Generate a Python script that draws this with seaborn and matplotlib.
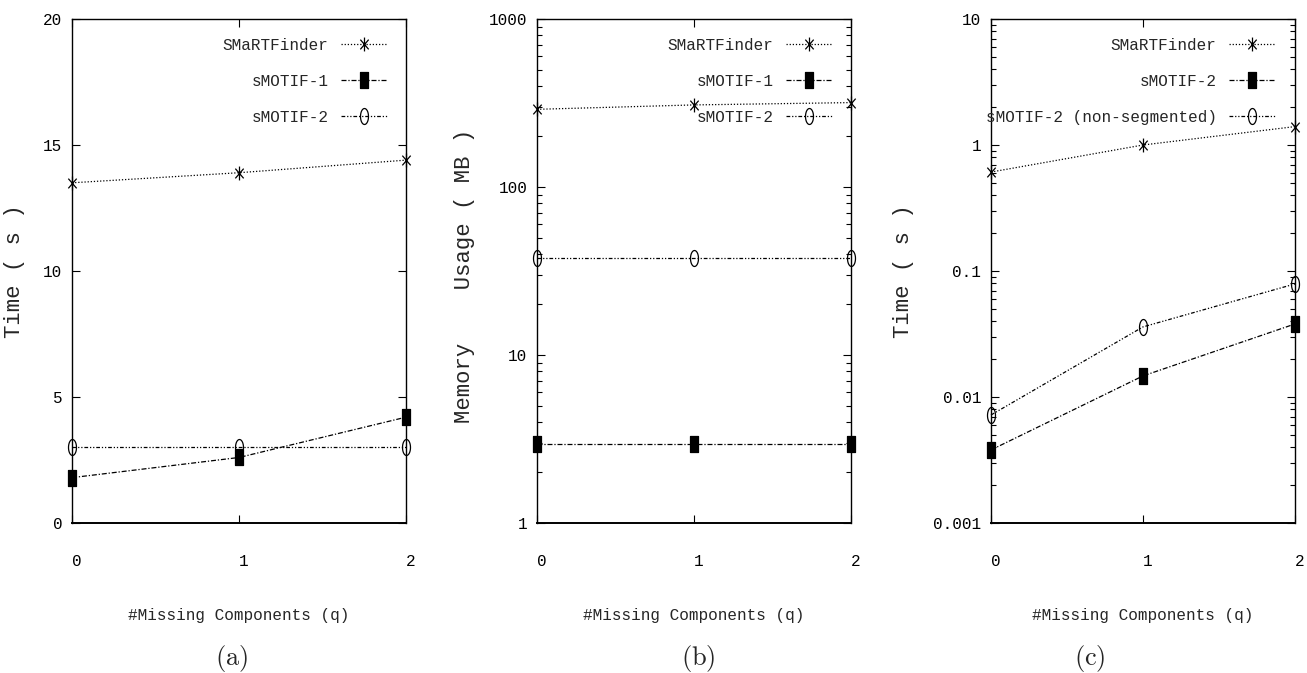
import numpy as np
import pandas as pd
import seaborn as sns
import matplotlib
matplotlib.use("Agg")
import matplotlib.pyplot as plt
from matplotlib.path import Path
from matplotlib.transforms import ScaledTranslation
from matplotlib.ticker import NullFormatter, LogLocator

# ---------------- data ----------------
q_values = [0, 1, 2]
x_tick_labels = ["0", "1", "2"]

# panel (a): time (s), linear
a_labels = ["SMaRTFinder", "sMOTIF-1", "sMOTIF-2"]
a_smartfinder = [13.5, 13.9, 14.4]
a_smotif1 = [1.8, 2.6, 4.2]
a_smotif2 = [3.0, 3.0, 3.0]
a_yticks = [0, 5, 10, 15, 20]
a_yticklabels = ["0", "5", "10", "15", "20"]

# panel (b): memory usage (MB), log
b_labels = ["SMaRTFinder", "sMOTIF-1", "sMOTIF-2"]
b_smartfinder = [290, 308, 318]
b_smotif1 = [2.95, 2.95, 2.95]
b_smotif2 = [38, 38, 38]
b_yticks = [1, 10, 100, 1000]
b_yticklabels = ["1", "10", "100", "1000"]

# panel (c): time (s), log
c_labels = ["SMaRTFinder", "sMOTIF-2", "sMOTIF-2 (non-segmented)"]
c_smartfinder = [0.61, 1.0, 1.4]
c_smotif2 = [0.0038, 0.0147, 0.038]
c_nonseg = [0.0072, 0.036, 0.079]
c_yticks = [0.001, 0.01, 0.1, 1, 10]
c_yticklabels = ["0.001", "0.01", "0.1", "1", "10"]

x_label = "#Missing Components (q)"
captions = ["(a)", "(b)", "(c)"]

# ---------------- style ----------------
sns.set_style("ticks")
plt.rcParams["font.family"] = ["Liberation Mono", "DejaVu Sans Mono"]
plt.rcParams["mathtext.fontset"] = "cm"

# markers (vertically elongated like the reference)
asterisk = Path(
    [(0, -1), (0, 1), (-0.6, -0.7), (0.6, 0.7), (-0.6, 0.7), (0.6, -0.7)],
    [Path.MOVETO, Path.LINETO, Path.MOVETO, Path.LINETO, Path.MOVETO, Path.LINETO],
)
rect = Path([(-0.5, -1), (0.5, -1), (0.5, 1), (-0.5, 1), (-0.5, -1)],
            [Path.MOVETO, Path.LINETO, Path.LINETO, Path.LINETO, Path.CLOSEPOLY])
t = np.linspace(0, 2 * np.pi, 41)
ellipse = Path(np.column_stack([0.5 * np.cos(t), np.sin(t)]))

series_styles = [
    dict(marker=asterisk, markersize=10, mfc="none", linestyle=(0, (1, 1.5))),
    dict(marker=rect, markersize=11.5, mfc="k", linestyle=(0, (4, 1.5, 1, 1.5))),
    dict(marker=ellipse, markersize=11.5, mfc="none", linestyle=(0, (3, 1.5, 1, 1.5, 1, 1.5))),
]

W, H = 1307, 673
fig = plt.figure(figsize=(W / 100, H / 100), dpi=100)

def px_axes(left, right, top=19, bottom=523):
    return fig.add_axes([left / W, (H - bottom) / H, (right - left) / W, (bottom - top) / H])

panels = [
    dict(box=(72, 406), labels=a_labels, data=[a_smartfinder, a_smotif1, a_smotif2],
         log=False, ylim=(0, 20), yticks=a_yticks, ytl=a_yticklabels,
         ylabel="Time ( s )", ylab_x=25, ylab_y=0.5, leg_r=387, cap_x=232),
    dict(box=(537, 851), labels=b_labels, data=[b_smartfinder, b_smotif1, b_smotif2],
         log=True, ylim=(1, 1000), yticks=b_yticks, ytl=b_yticklabels,
         ylabel="Memory    Usage ( MB )", ylab_x=475, ylab_y=0.49, leg_r=832, cap_x=698),
    dict(box=(991, 1295), labels=c_labels, data=[c_smartfinder, c_smotif2, c_nonseg],
         log=True, ylim=(0.001, 10), yticks=c_yticks, ytl=c_yticklabels,
         ylabel="Time ( s )", ylab_x=914, ylab_y=0.5, leg_r=1275, cap_x=1090),
]

for i, p in enumerate(panels):
    l, r = p["box"]
    ax = px_axes(l, r)
    for lab, vals, st in zip(p["labels"], p["data"], series_styles):
        df = pd.DataFrame({"q": q_values, "v": vals})
        sns.lineplot(data=df, x="q", y="v", ax=ax, color="k", label=lab,
                     marker=st["marker"], markersize=st["markersize"],
                     markerfacecolor=st["mfc"], markeredgecolor="k",
                     markeredgewidth=0.9, linestyle=st["linestyle"],
                     linewidth=0.9, clip_on=False)
    if p["log"]:
        ax.set_yscale("log")
        ax.yaxis.set_minor_locator(LogLocator(base=10, subs=np.arange(2, 10)))
        ax.yaxis.set_minor_formatter(NullFormatter())
    ax.set_ylim(*p["ylim"])
    ax.set_xlim(0, 2)
    ax.set_yticks(p["yticks"])
    ax.set_yticklabels(p["ytl"])
    ax.set_xticks(q_values)
    ax.set_xticklabels(x_tick_labels)
    ax.tick_params(which="both", direction="in", top=True, right=True,
                   colors="k", labelsize=11.5)
    ax.tick_params(which="major", length=6, width=0.8)
    ax.tick_params(which="minor", length=3.5, width=0.8)
    ax.tick_params(axis="x", pad=22)
    ax.tick_params(axis="y", pad=7)
    for lbl in ax.get_xticklabels():
        lbl.set_transform(lbl.get_transform() + ScaledTranslation(5 / 100, 0, fig.dpi_scale_trans))
    for name, s in ax.spines.items():
        s.set_color("k")
        s.set_linewidth(1.4 if name == "bottom" else 1.0)

    ax.set_xlabel(x_label, fontsize=11.5)
    ax.xaxis.set_label_coords(0.5, -(608 - 523) / 504)
    ax.set_ylabel(p["ylabel"], fontsize=16)
    ax.yaxis.set_label_coords((p["ylab_x"] - l) / (r - l), p["ylab_y"])

    ax.legend(loc="upper right",
              bbox_to_anchor=((p["leg_r"] - l) / (r - l), (523 - 38) / 504),
              frameon=False, markerfirst=False, numpoints=1,
              handlelength=2.9, handletextpad=0.75, labelspacing=1.3,
              borderpad=0, borderaxespad=0, fontsize=11.5)

    fig.text(p["cap_x"] / W, 1 - 658 / H, r"$\mathrm{" + captions[i] + "}$",
             ha="center", va="center", fontsize=19)

fig.savefig("out.png", dpi=100)
